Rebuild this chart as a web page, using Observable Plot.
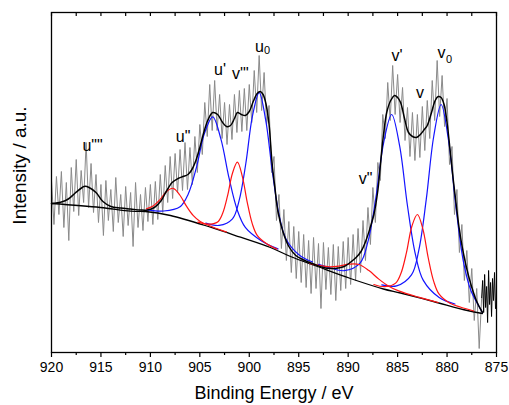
<!DOCTYPE html>
<html><head><meta charset="utf-8">
<script src="https://cdn.jsdelivr.net/npm/d3@7"></script>
<script src="https://cdn.jsdelivr.net/npm/@observablehq/plot@0.6"></script>
<style>body{margin:0;background:#fff}</style>
</head><body><div id="chart"></div>
<script>
// Raw spectrum (gray), sampled every 0.25 eV from 920 eV
const rawStart = 920, rawStep = 0.25;
const rawV = [
172,128,176,138,181,125,170,112,185,141,
193,137,182,150,210,145,189,140,178,130,
168,117,172,132,163,121,175,130,158,116,
166,127,160,106,170,125,158,122,165,131,
168,128,171,133,178,140,187,150,196,154,
199,160,203,162,210,163,205,168,216,180,
228,198,250,216,268,222,272,222,258,214,
250,208,248,213,258,220,262,221,264,222,
268,230,282,240,297,242,280,228,247,180,
196,132,158,104,143,92,131,80,126,74,
121,70,118,65,112,59,115,64,109,44,
110,63,105,58,108,52,106,62,111,64,
115,68,118,72,124,80,132,92,145,108,
165,130,190,172,238,214,270,232,287,238,
278,230,265,212,245,196,240,192,238,195,
246,202,252,214,272,232,292,236,277,226,
254,188,206,138,163,100,128,72,102,50,
84,32,64,4,55];
// end of scan (black)
const tailE = [876.5,876.4,876.3,876.2,876.1,876.0,875.9,875.8,875.7,875.6,875.5,875.4,875.3,875.2,875.1];
const tailV = [55,72,40,78,45,66,30,82,48,70,36,74,52,80,44];

// Shirley background
const bgE = [920,915.05,912.0,910.5,907.97,903.92,900.89,897.86,895.83,893.1,889.77,886.43,884.71,881.38,877.94,876.42];
const bgV = [149,145,141.3,141,137,125.3,115.3,105,96,86,74,63.5,59.5,51,42,39];

// Fit envelope
const envE = [920,919,918.3,917.6,916.9,916.6,916.2,915.5,914.8,914.0,913.0,912.0,911.0,910.3,909.6,908.9,908.4,907.8,907.2,906.7,906.2,905.8,905.4,905.0,904.6,904.2,903.7,903.2,902.7,902.3,901.9,901.5,901.2,900.8,900.4,900.0,899.6,899.2,898.9,898.6,898.3,898.0,897.7,897.4,897.1,896.6,896.0,895.3,894.5,893.5,892.5,891.8,891.0,890.4,889.8,889.2,888.7,888.2,887.8,887.4,887.0,886.7,886.4,886.1,885.7,885.3,885.0,884.7,884.3,883.9,883.5,883.1,882.7,882.3,882.0,881.6,881.2,880.9,880.6,880.3,880.0,879.7,879.4,879.1,878.8,878.3,877.7,877.0,876.42];
const envV = [149,150.5,153.5,159.5,165,166.3,165,160,151,146,144.5,143.5,142.5,142.5,145,152,161,170,174,176,178,183,192,205,220,232,240,238,230,226,227,234,240,238,237,241,251,259,261,258,248,228,190,164,141,121,106,97,92.5,88.5,85,84,84.5,86,90,95,101,112,124,138,162,192,220,240,252,257,255,250,234,220,216,215,218,223,227,239,252,256,255,248,230,203,175,150,126,97,72,51,40];

// Ce4+ components (blue)
const blue1E = [910.3,908.65,907.0,906.18,905.35,904.53,903.7,902.88,902.05,901.23,900.4,898.75,897.1];
const blue1V = [142.7,141.5,145.7,158.3,184.9,219.1,235.6,213.9,174.6,142.9,125.1,111.5,103.6];
const blue2E = [904.4,903.05,901.7,901.03,900.35,899.68,899.0,898.33,897.65,896.98,896.3,894.95,893.6];
const blue2V = [129.4,127.1,133.7,151.9,189.0,236.4,259.9,231.8,179.6,137.2,113.8,97.5,90.5];
const blue3E = [893.0,892.0,890.4,888.8,888.0,887.2,886.4,885.6,884.8,884.0,883.2,882.4,880.8,879.2];
const blue3V = [88.1,85.2,81.8,89.4,110.8,154.7,210.5,238,206.8,146.5,98.1,72.1,55.0,48.5];
const blue4E = [886.6,885.1,883.6,882.85,882.1,881.35,880.6,879.85,879.1,878.35,877.6,876.85,876.42];
const blue4V = [67.6,66.6,77.6,102.7,153.3,216,248,212,145.5,91.1,62.2,47.5,40];

// Ce3+ components (red)
const red1E = [910.4,909.73,909.05,908.38,907.7,907.03,906.35,905.68,905.0,903.65,902.3];
const red1V = [143.7,146.5,152.7,160.8,164.2,157.5,146.3,137.1,131.3,125.3,120.5];
const red2E = [905.2,904.2,903.2,902.7,902.2,901.7,901.2,900.7,900.2,899.7,899.2,898.2,897.2];
const red2V = [130.3,128.4,130.6,139.0,156.6,179.3,190.3,175.9,149.9,128.9,117.2,108.5,103.4];
const red3E = [893.9,892.9,891.9,890.9,889.9,888.9,887.9,886.9,885.9,884.9,882.9,880.9];
const red3V = [89.2,87.0,85.7,86.5,88.3,88.0,81.9,73.4,66.3,61.6,55.3,50.0];
const red4E = [887.4,886.3,885.2,884.65,884.1,883.55,883.0,882.45,881.9,881.35,880.8,879.7,878.6,877.3];
const red4V = [68.0,65.8,69.4,79.5,100.1,126.5,138,123.7,94.5,71.1,58.3,49.2,45.2,41.5];

// Peak labels
const labelText = ['u""', 'u"', "u'", "v'\"", "u", "v'", "v", "v", 'v"'];
const labelE = [915.85, 906.7, 902.96, 900.9, 898.97, 885.06, 882.74, 880.57, 888.25];
const labelV = [207, 216, 283, 279, 306, 297, 259.5, 300, 173.5];
const subText = ["0", "0"];
const subE = [898.2, 879.8];
const subV = [302, 293];

const xMajor = [920,915,910,905,900,895,890,885,880,875];
const xMinor = [917.5,912.5,907.5,902.5,897.5,892.5,887.5,882.5,877.5];

const pts = (E, V) => E.map((e, i) => ({e, v: V[i]}));
const rawPts = rawV.map((v, i) => ({e: rawStart - i * rawStep, v}));
const FONT = "'Liberation Sans', Arial, sans-serif";
const comp = (E, V, color) => Plot.line(pts(E, V), {x: "e", y: "v", stroke: color, strokeWidth: 1.2, curve: "catmull-rom"});

const chart = Plot.plot({
  width: 509, height: 405,
  marginLeft: 51, marginRight: 13, marginTop: 12, marginBottom: 53,
  style: {fontFamily: FONT, background: "white", color: "black"},
  x: {domain: [920, 875], label: null, axis: null},
  y: {domain: [0, 340], label: null, axis: null},
  marks: [
    Plot.line(rawPts, {x: "e", y: "v", stroke: "#8a8a8a", strokeWidth: 1}),
    Plot.line(pts(tailE, tailV), {x: "e", y: "v", stroke: "black", strokeWidth: 1}),
    Plot.line(pts(bgE, bgV), {x: "e", y: "v", stroke: "black", strokeWidth: 1.3, curve: "catmull-rom"}),
    comp(blue1E, blue1V, "#1414ff"),
    comp(blue2E, blue2V, "#1414ff"),
    comp(blue3E, blue3V, "#1414ff"),
    comp(blue4E, blue4V, "#1414ff"),
    comp(red1E, red1V, "#ff1414"),
    comp(red2E, red2V, "#ff1414"),
    comp(red3E, red3V, "#ff1414"),
    comp(red4E, red4V, "#ff1414"),
    Plot.line(pts(envE, envV), {x: "e", y: "v", stroke: "black", strokeWidth: 1.5, curve: "catmull-rom"}),
    Plot.text(labelText.map((t, i) => ({t, e: labelE[i], v: labelV[i]})), {x: "e", y: "v", text: "t", fontSize: 16, fill: "black", textAnchor: "middle", lineAnchor: "middle"}),
    Plot.text(subText.map((t, i) => ({t, e: subE[i], v: subV[i]})), {x: "e", y: "v", text: "t", fontSize: 11, fill: "black", textAnchor: "middle", lineAnchor: "middle"}),
    Plot.frame({stroke: "black", strokeWidth: 1.3}),
    Plot.axisX(xMajor, {anchor: "bottom", tickSize: 5, tickPadding: 5, tickFormat: (d) => String(d), fontSize: 14, label: null, stroke: "black", strokeWidth: 1.2}),
    Plot.axisX(xMinor, {anchor: "bottom", tickSize: 3, tickFormat: () => "", label: null, strokeWidth: 1.2}),
    Plot.axisX([...xMajor, ...xMinor], {anchor: "bottom", frameAnchor: "top", tickSize: 4, tickFormat: () => "", label: null, strokeWidth: 1.2}),
    Plot.text(["Binding Energy / eV"], {frameAnchor: "bottom", textAnchor: "middle", lineAnchor: "middle", dy: 41, fontSize: 18, fill: "black"}),
    Plot.text(["Intensity / a.u."], {frameAnchor: "left", textAnchor: "middle", lineAnchor: "middle", rotate: -90, dx: -32, dy: -17, fontSize: 19, fill: "black"})
  ]
});
document.getElementById("chart").appendChild(chart);
</script>
</body></html>
